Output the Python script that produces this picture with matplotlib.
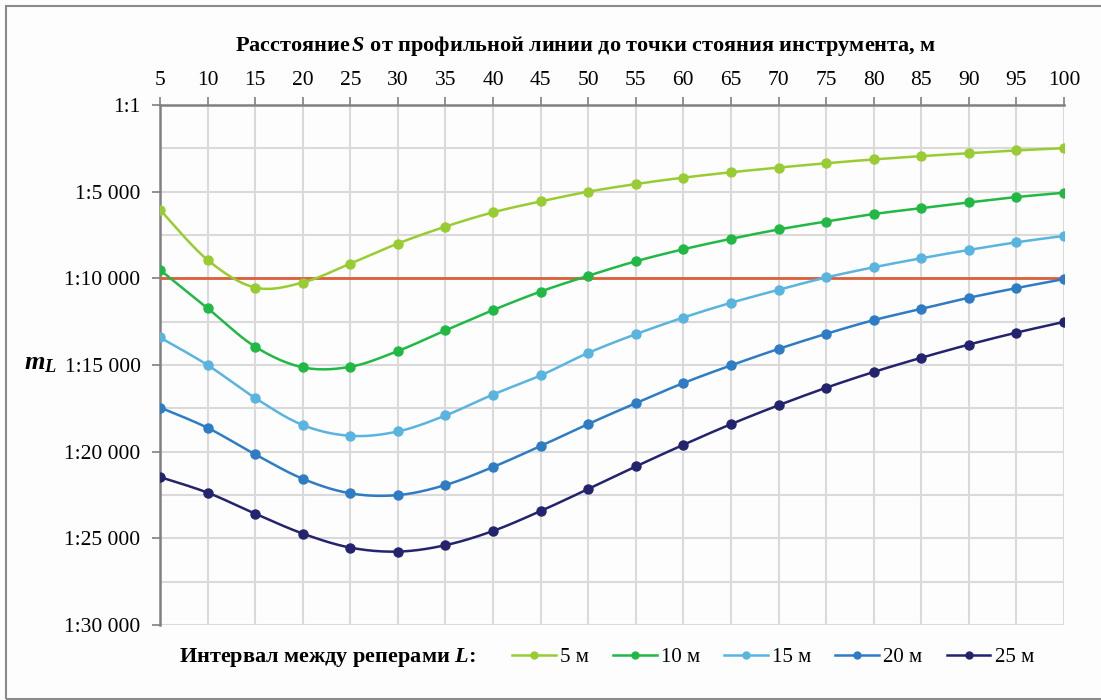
import numpy as np
import matplotlib
matplotlib.use('Agg')
import matplotlib.pyplot as plt
from matplotlib.patches import Rectangle
from matplotlib.lines import Line2D

# distance S from the profile line to the instrument station, m
distance = [5, 10, 15, 20, 25, 30, 35, 40, 45, 50,
            55, 60, 65, 70, 75, 80, 85, 90, 95, 100]

# scale denominators m_L for each benchmark interval L
ml_5 = [6040, 8935, 10530, 10240, 9150, 7990, 7015, 6190, 5560, 5000,
        4560, 4190, 3880, 3610, 3360, 3140, 2950, 2780, 2620, 2490]
ml_10 = [9510, 11720, 13940, 15130, 15100, 14190, 13000, 11830, 10760, 9850,
         9015, 8320, 7720, 7180, 6720, 6290, 5950, 5620, 5310, 5060]
ml_15 = [13410, 15000, 16900, 18460, 19080, 18830, 17910, 16700, 15600, 14300,
         13220, 12260, 11410, 10660, 9950, 9360, 8840, 8360, 7920, 7550]
ml_20 = [17450, 18620, 20150, 21560, 22400, 22500, 21920, 20880, 19670, 18400,
         17200, 16040, 15020, 14070, 13200, 12410, 11760, 11120, 10560, 10040]
ml_25 = [21460, 22360, 23570, 24720, 25530, 25760, 25390, 24570, 23420, 22150,
         20850, 19600, 18410, 17320, 16310, 15400, 14580, 13820, 13130, 12510]

series_labels = ['5 м', '10 м', '15 м', '20 м', '25 м']
series_colors = ['#99cc33', '#22b845', '#5ab4e0', '#2e7cc4', '#23236e']

limit_value = 10000

y_tick_values = [0, 5000, 10000, 15000, 20000, 25000, 30000]
y_tick_labels = ['1:1', '1:5 000', '1:10 000', '1:15 000',
                 '1:20 000', '1:25 000', '1:30 000']


def smooth(x, y, n=24):
    # Catmull-Rom path through the points (same as Excel "smoothed line")
    pts = np.column_stack([x, y]).astype(float)
    p = np.vstack([pts[0], pts, pts[-1]])
    t = np.linspace(0, 1, n, endpoint=False)[:, None]
    out = []
    for i in range(1, len(p) - 2):
        p0, p1, p2, p3 = p[i - 1], p[i], p[i + 1], p[i + 2]
        seg = 0.5 * (2 * p1 + (-p0 + p2) * t
                     + (2 * p0 - 5 * p1 + 4 * p2 - p3) * t ** 2
                     + (-p0 + 3 * p1 - 3 * p2 + p3) * t ** 3)
        out.append(seg)
    out.append(pts[-1:])
    out = np.vstack(out)
    return out[:, 0], out[:, 1]


plt.rcParams['font.family'] = ['Liberation Serif', 'DejaVu Serif']
plt.rcParams['mathtext.fontset'] = 'custom'
plt.rcParams['mathtext.it'] = 'Liberation Serif:italic:bold'
plt.rcParams['mathtext.rm'] = 'Liberation Serif'
plt.rcParams['mathtext.bf'] = 'Liberation Serif:bold'

fig = plt.figure(figsize=(11.01, 7.0), dpi=100, facecolor='#fdfdfd')
ax = fig.add_axes([0.1453, 0.107, 0.8211, 0.743])
ax.set_facecolor('#fdfdfd')

# outer frame
fig.patches.append(Rectangle((0.0059, 0.0015), 1.2, 0.9893, transform=fig.transFigure,
                             fill=False, edgecolor='#8a8a8a', lw=1.5))

ax.plot([distance[0], distance[-1]], [limit_value, limit_value],
        color='#d9603b', lw=2, zorder=3)

all_series = [ml_5, ml_10, ml_15, ml_20, ml_25]
handles = []
for vals, lab, col in zip(all_series, series_labels, series_colors):
    sx, sy = smooth(distance, vals)
    ax.plot(sx, sy, color=col, lw=1.8, zorder=4)
    ax.plot(distance, vals, linestyle='none', marker='o', markersize=6.5,
            color=col, zorder=5)
    handles.append(Line2D([], [], color=col, lw=1.8, marker='o', markersize=5, label=lab))

ax.set_xlim(distance[0], distance[-1])
ax.set_ylim(30000, 0)
ax.set_xticks(distance)
ax.set_yticks(y_tick_values)
ax.set_yticklabels(y_tick_labels)
ax.set_yticks(np.arange(0, 30001, 2500), minor=True)

ax.xaxis.tick_top()
ax.tick_params(axis='x', which='major', direction='out', length=6, width=1.2,
               color='#808080', labelsize=15.5, pad=5)
ax.tick_params(axis='y', which='major', direction='out', length=6, width=1.2,
               color='#808080', labelsize=15.5, pad=8)
ax.tick_params(axis='y', which='minor', length=0)

ax.grid(True, which='both', color='#dadada', lw=1.5, zorder=0)
ax.set_axisbelow(True)
for s in ['right', 'bottom']:
    ax.spines[s].set_visible(False)
for s in ['left', 'top']:
    ax.spines[s].set_color('#808080')
    ax.spines[s].set_linewidth(1.8)

fig.text(0.532, 0.934, 'Расстояние$\\,S$ от профильной линии до точки стояния инструмента, м',
         fontsize=16, fontweight='bold', ha='center', va='center')

fig.text(0.022, 0.48, '$m_L$', fontsize=19, va='center', ha='left')

fig.text(0.163, 0.0614, 'Интервал между реперами $L$:', fontsize=16,
         fontweight='bold', va='center', ha='left')
fig.legend(handles=handles, loc='center left', bbox_to_anchor=(0.465, 0.0614),
           ncol=5, frameon=False, fontsize=15, handlelength=2.1, handletextpad=0.2,
           columnspacing=1.16, borderaxespad=0, borderpad=0)

fig.savefig('out.png', dpi=100, facecolor=fig.get_facecolor())
